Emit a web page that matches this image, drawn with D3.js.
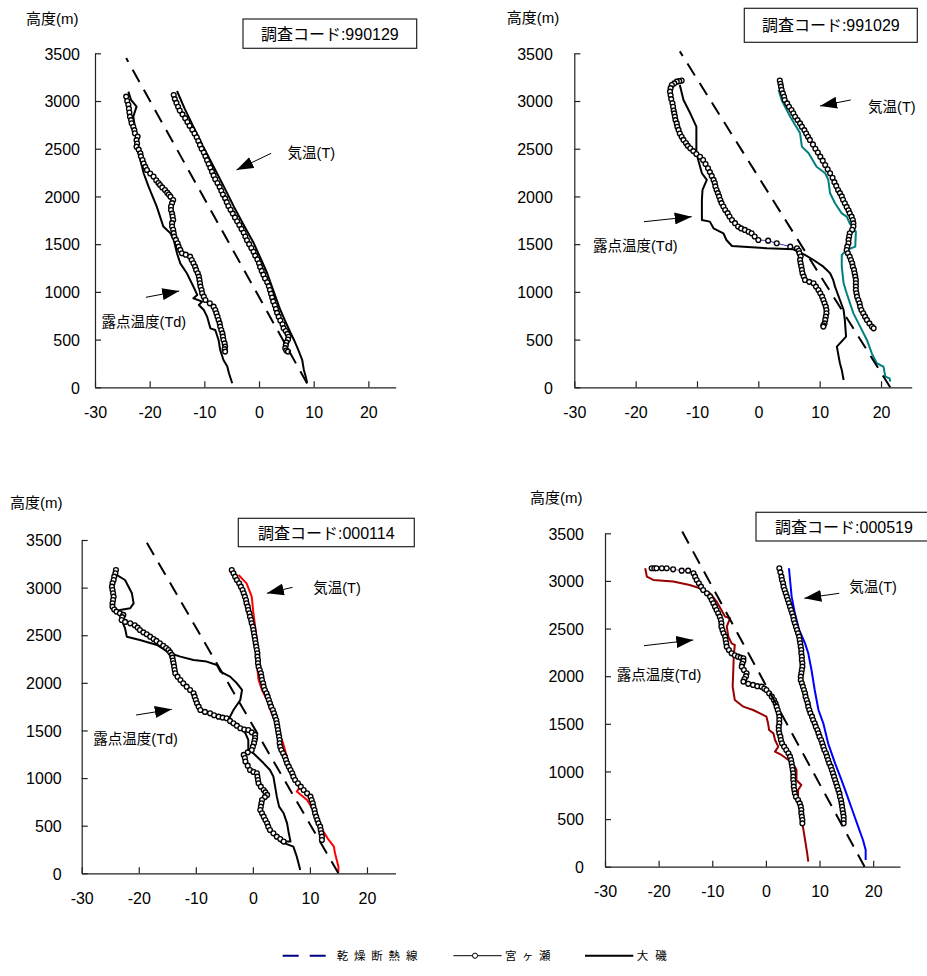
<!DOCTYPE html>
<html><head><meta charset="utf-8">
<script src="https://cdn.jsdelivr.net/npm/d3@7"></script>
<style>
body{margin:0;background:#fff}
text{font-family:"Liberation Sans","Noto Sans CJK JP",Arial,sans-serif;fill:#000}
</style>
</head><body>
<svg id="c" width="927" height="976"></svg>
<script>
// ---------------- DATA ----------------
const xTicks = [-30, -20, -10, 0, 10, 20];
const yTicks = [0, 500, 1000, 1500, 2000, 2500, 3000, 3500];
const codes = ["990129", "991029", "000114", "000519"];
const yAxisTitle = "高度(m)";
const labelT = "気温(T)";
const labelTd = "露点温度(Td)";
const legendNames = ["乾燥断熱線", "宮ヶ瀬", "大磯"];

// panel 1 : 990129   [temperature, height]
const p1Dry = [[8.8, 40], [-24.3, 3450]];
const p1MiyaT = [[-15.6,3063],[-15.4,3020],[-15.1,2980],[-14.8,2940],[-14.5,2900],[-14.0,2860],[-13.5,2820],[-13.1,2780],[-12.7,2740],[-12.2,2700],[-11.8,2660],[-11.4,2620],[-11.1,2580],[-10.8,2540],[-10.5,2500],[-10.1,2460],[-9.8,2420],[-9.5,2380],[-9.2,2340],[-8.9,2300],[-8.6,2260],[-8.3,2220],[-8.0,2180],[-7.6,2140],[-7.2,2100],[-6.9,2060],[-6.6,2020],[-6.2,1980],[-5.9,1940],[-5.6,1900],[-5.2,1860],[-4.8,1820],[-4.4,1780],[-4.0,1740],[-3.6,1700],[-3.2,1660],[-2.8,1620],[-2.5,1580],[-2.2,1540],[-1.8,1500],[-1.4,1460],[-1.0,1420],[-0.7,1380],[-0.3,1340],[0.0,1300],[0.2,1260],[0.5,1220],[0.8,1180],[1.1,1140],[1.5,1100],[1.8,1060],[2.0,1020],[2.2,980],[2.4,940],[2.6,900],[2.9,860],[3.1,820],[3.3,780],[3.6,740],[3.9,700],[4.3,660],[4.5,620],[4.9,590],[5.2,560],[5.4,530],[5.3,500],[5.0,470],[4.9,440],[4.8,410],[5.0,385],[5.3,374]];
const p1OisoT = [[-15.0,3105],[-13.6,2920],[-12.0,2731],[-10.2,2520],[-8.3,2312],[-6.4,2100],[-4.6,1893],[-2.8,1700],[-0.95,1509],[0.3,1350],[1.5,1195],[2.7,1000],[3.9,810],[4.9,680],[5.8,566],[6.4,496],[7.2,390],[7.9,286],[8.2,182],[8.5,120],[8.8,49]];
const p1MiyaTd = [[-24.3,3046],[-24.1,3000],[-23.9,2960],[-23.8,2920],[-23.7,2880],[-23.6,2836],[-23.4,2800],[-23.3,2766],[-23.0,2730],[-22.8,2695],[-22.7,2662],[-22.2,2627],[-22.4,2590],[-22.3,2555],[-22.4,2522],[-22.0,2490],[-21.7,2452],[-21.6,2420],[-21.3,2382],[-21.1,2345],[-20.8,2310],[-20.5,2277],[-19.9,2240],[-19.3,2208],[-18.8,2170],[-18.4,2140],[-18.1,2120],[-17.7,2095],[-17.2,2068],[-16.8,2040],[-16.5,2020],[-16.2,1998],[-15.7,1963],[-15.9,1930],[-16.1,1895],[-16.1,1858],[-15.9,1820],[-15.8,1790],[-15.7,1753],[-15.9,1720],[-15.9,1684],[-15.7,1650],[-15.6,1615],[-15.5,1579],[-15.2,1545],[-14.9,1510],[-14.7,1474],[-14.4,1440],[-14.1,1404],[-13.4,1390],[-12.6,1369],[-12.3,1334],[-12.0,1300],[-11.7,1264],[-11.5,1230],[-11.2,1195],[-11.0,1160],[-10.9,1125],[-10.8,1090],[-10.7,1055],[-10.5,1020],[-10.4,985],[-10.1,950],[-9.8,915],[-9.0,880],[-8.3,845],[-8.0,810],[-7.8,775],[-7.6,741],[-7.4,705],[-7.2,670],[-7.1,636],[-6.9,600],[-6.7,565],[-6.6,531],[-6.5,495],[-6.3,460],[-6.2,426],[-6.3,400],[-6.2,374]];
const p1OisoTd = [[-23.9,3098],[-23.4,3011],[-22.4,2941],[-23.0,2836],[-22.7,2731],[-22.2,2592],[-22.4,2522],[-21.7,2382],[-21.1,2243],[-20.2,2103],[-18.7,1893],[-17.5,1684],[-16.2,1614],[-15.6,1544],[-15.0,1404],[-14.4,1299],[-13.2,1195],[-12.0,1055],[-11.3,968],[-12.0,933],[-10.4,898],[-11.0,863],[-10.1,810],[-9.5,741],[-8.9,618],[-8.0,601],[-7.4,496],[-7.1,391],[-6.5,286],[-5.8,217],[-5.5,147],[-4.9,42]];

// panel 2 : 991029
const p2Dry = [[21.5, 0], [-12.8, 3520]];
const p2MiyaT = [[3.5,3214],[3.6,3180],[3.7,3150],[3.8,3116],[4.0,3080],[4.2,3045],[4.3,3011],[4.7,2975],[5.0,2940],[5.4,2905],[5.7,2871],[6.0,2835],[6.4,2800],[6.8,2765],[7.1,2731],[7.5,2695],[7.8,2660],[8.1,2625],[8.4,2592],[8.9,2545],[9.3,2500],[9.7,2460],[10.1,2417],[10.5,2375],[10.9,2330],[11.3,2285],[11.7,2243],[12.1,2195],[12.4,2150],[12.7,2110],[13.0,2068],[13.3,2035],[13.6,2000],[13.8,1965],[14.1,1928],[14.4,1890],[14.7,1855],[14.9,1823],[15.2,1788],[15.4,1753],[15.5,1718],[15.5,1684],[15.3,1650],[14.9,1614],[14.8,1580],[14.7,1545],[14.7,1509],[14.5,1474],[14.4,1439],[14.6,1404],[14.9,1369],[15.1,1334],[15.3,1299],[15.4,1264],[15.6,1230],[15.7,1195],[15.8,1160],[15.9,1125],[15.9,1090],[15.9,1055],[15.9,1020],[16.0,985],[16.1,950],[16.3,915],[16.5,880],[16.6,845],[16.8,810],[17.1,775],[17.4,740],[17.7,706],[18.1,670],[18.5,636],[18.8,618]];
const p2OisoT = [[3.3,3116],[3.8,3011],[4.5,2920],[5.2,2836],[6.0,2749],[6.5,2697],[6.8,2662],[7.1,2522],[8.2,2452],[9.5,2312],[10.9,2243],[11.4,2173],[11.7,2033],[12.5,1928],[13.6,1823],[14.4,1788],[14.9,1718],[15.9,1631],[15.8,1474],[14.4,1439],[13.6,1387],[13.6,1264],[13.9,1090],[14.4,985],[15.5,775],[16.6,636],[17.7,496],[18.5,356],[19.3,252],[20.4,217],[20.7,112],[21.4,94],[21.5,59]];
const p2MiyaTd = [[-12.5,3214],[-12.9,3208],[-13.3,3203],[-13.7,3185],[-14.1,3168],[-14.3,3135],[-14.4,3098],[-14.3,3060],[-14.2,3020],[-14.0,2976],[-13.9,2940],[-13.8,2900],[-13.7,2870],[-13.6,2836],[-13.5,2800],[-13.3,2765],[-13.2,2730],[-13.0,2697],[-12.8,2660],[-12.5,2625],[-12.2,2592],[-11.8,2560],[-11.5,2530],[-11.1,2504],[-10.6,2475],[-10.1,2445],[-9.5,2415],[-9.0,2382],[-8.6,2340],[-8.2,2295],[-7.9,2255],[-7.6,2215],[-7.3,2173],[-7.1,2140],[-7.0,2105],[-6.8,2068],[-6.6,2035],[-6.4,2000],[-6.2,1963],[-6.0,1930],[-5.7,1895],[-5.4,1858],[-5.0,1825],[-4.7,1790],[-4.3,1753],[-3.8,1720],[-3.3,1684],[-2.8,1665],[-2.2,1649],[-1.6,1630],[-1.1,1614],[-0.6,1580],[0.0,1544],[1.6,1537],[3.0,1509],[5.2,1474],[6.3,1457],[6.6,1430],[6.7,1404],[6.9,1370],[6.8,1335],[6.9,1299],[7.0,1265],[7.1,1230],[7.2,1195],[7.4,1160],[7.6,1125],[8.3,1105],[9.0,1090],[9.4,1055],[9.8,1020],[10.1,985],[10.4,950],[10.6,915],[10.8,880],[11.0,845],[11.1,810],[11.1,775],[11.0,740],[10.9,706],[10.8,670],[10.6,650],[10.6,636]];
const p2OisoTd = [[-12.8,3168],[-12.2,3011],[-11.1,2871],[-10.1,2731],[-10.1,2592],[-10.1,2452],[-9.2,2243],[-8.4,2173],[-9.1,2068],[-9.2,1963],[-9.2,1753],[-7.9,1736],[-7.3,1666],[-5.7,1614],[-5.2,1544],[-4.3,1481],[-2.4,1474],[1.4,1457],[5.7,1446],[7.6,1387],[9.0,1334],[10.6,1264],[11.7,1195],[12.2,1125],[12.5,1055],[13.3,915],[13.9,810],[14.1,706],[14.3,531],[12.8,426],[13.0,356],[13.3,252],[13.6,182],[13.9,77]];

// panel 3 : 000114
const p3Dry = [[15.0, 0], [-19.2, 3535]];
const p3MiyaT = [[-3.7,3185],[-3.4,3150],[-3.1,3115],[-2.8,3080],[-2.4,3045],[-2.1,3010],[-1.8,2975],[-1.6,2940],[-1.4,2905],[-1.2,2870],[-1.1,2835],[-0.9,2800],[-0.8,2765],[-0.6,2730],[-0.5,2695],[-0.3,2660],[-0.2,2625],[0.0,2590],[0.1,2555],[0.2,2520],[0.3,2485],[0.4,2450],[0.5,2415],[0.6,2380],[0.7,2345],[0.8,2310],[0.8,2275],[0.9,2240],[0.9,2205],[1.0,2170],[1.2,2135],[1.4,2100],[1.5,2065],[1.6,2030],[1.8,1995],[1.9,1960],[2.1,1925],[2.4,1890],[2.6,1855],[2.8,1820],[3.0,1785],[3.2,1750],[3.5,1715],[3.7,1680],[3.9,1645],[4.1,1610],[4.2,1575],[4.3,1540],[4.4,1505],[4.5,1470],[4.6,1435],[4.7,1400],[4.7,1365],[4.8,1330],[5.0,1295],[5.3,1260],[5.6,1225],[5.8,1190],[6.0,1155],[6.3,1120],[6.6,1085],[6.9,1050],[7.1,1015],[7.4,980],[7.9,945],[8.4,910],[8.9,875],[9.5,840],[10.1,805],[10.3,770],[10.5,735],[10.6,700],[10.8,665],[10.9,630],[11.1,595],[11.3,560],[11.5,525],[11.8,490],[11.9,455],[12.0,420],[12.1,385],[12.1,350]];
const p3OisoT = [[-2.5,3133],[-1.1,3045],[-0.2,2905],[0.1,2730],[0.7,2450],[0.7,2205],[1.0,2030],[1.6,1925],[2.5,1820],[3.3,1680],[4.2,1540],[5.3,1365],[6.1,1190],[7.1,1050],[8.3,910],[7.7,858],[9.5,770],[10.6,665],[11.8,490],[13.3,350],[14.2,280],[14.4,210],[15.0,70],[15.0,17]];
const p3MiyaTd = [[-24.0,3185],[-24.1,3150],[-24.3,3115],[-24.4,3080],[-24.6,3045],[-24.7,3010],[-24.6,2975],[-24.5,2940],[-24.4,2905],[-24.5,2870],[-24.6,2835],[-24.6,2800],[-24.3,2770],[-23.9,2748],[-23.3,2730],[-22.7,2713],[-22.9,2690],[-23.0,2660],[-22.4,2640],[-21.5,2625],[-20.7,2605],[-20.2,2580],[-19.8,2555],[-19.2,2530],[-18.6,2510],[-18.0,2485],[-17.4,2460],[-16.9,2440],[-16.3,2415],[-15.7,2390],[-15.2,2365],[-14.8,2345],[-14.5,2320],[-14.2,2293],[-14.1,2265],[-14.0,2235],[-13.9,2205],[-13.8,2170],[-13.7,2135],[-13.6,2100],[-13.2,2065],[-12.7,2030],[-12.2,1995],[-11.6,1960],[-11.0,1925],[-10.4,1890],[-10.2,1855],[-10.0,1820],[-9.8,1785],[-9.5,1750],[-9.2,1715],[-8.4,1695],[-7.5,1680],[-6.8,1660],[-6.0,1645],[-5.3,1635],[-4.6,1628],[-4.0,1600],[-3.4,1575],[-2.8,1550],[-2.2,1523],[-1.5,1510],[-0.8,1505],[-0.2,1480],[0.4,1453],[0.4,1420],[0.3,1395],[0.2,1365],[0.0,1330],[-0.2,1295],[-0.9,1270],[-1.6,1243],[-1.4,1210],[-1.3,1173],[-0.9,1130],[-0.5,1085],[0.1,1065],[0.7,1050],[0.8,1015],[0.9,980],[1.0,945],[1.4,910],[1.9,875],[2.2,850],[2.5,823],[2.1,800],[1.6,770],[1.5,735],[1.4,700],[1.3,665],[1.6,630],[1.9,595],[2.2,560],[2.5,525],[2.7,490],[3.0,455],[3.6,420],[4.2,385],[4.8,360],[5.4,333]];
const p3OisoTd = [[-23.9,3133],[-22.4,3080],[-21.2,2940],[-20.9,2835],[-21.5,2783],[-23.3,2765],[-23.0,2660],[-22.4,2573],[-22.1,2485],[-19.8,2450],[-16.8,2398],[-14.5,2310],[-12.7,2275],[-10.4,2240],[-8.1,2223],[-6.3,2188],[-5.7,2118],[-4.0,2065],[-2.8,1995],[-1.9,1925],[-2.2,1820],[-3.4,1715],[-4.0,1645],[-4.0,1575],[-2.2,1540],[-1.3,1470],[-0.8,1400],[-0.8,1295],[0.1,1260],[1.9,1155],[3.0,1085],[3.6,1015],[3.9,910],[4.2,805],[4.6,700],[5.4,630],[6.0,525],[6.3,420],[6.6,333],[4.8,333],[7.1,280],[7.7,175],[8.0,105],[8.3,35]];

// panel 4 : 000519
const p4Dry = [[18.4, 0], [-15.6, 3518]];
const p4MiyaT = [[2.5,3133],[2.7,3090],[2.9,3045],[3.0,3010],[3.2,2975],[3.3,2940],[3.5,2905],[3.7,2870],[3.9,2835],[4.1,2800],[4.3,2765],[4.5,2730],[4.7,2695],[4.9,2660],[5.1,2625],[5.2,2590],[5.4,2555],[5.6,2520],[5.8,2485],[6.0,2450],[6.2,2415],[6.3,2380],[6.4,2345],[6.5,2310],[6.6,2275],[6.6,2240],[6.7,2205],[6.7,2170],[6.8,2135],[6.8,2100],[6.7,2065],[6.6,2030],[6.5,1995],[6.5,1960],[6.7,1925],[6.9,1890],[7.1,1855],[7.3,1820],[7.4,1785],[7.6,1750],[7.8,1715],[7.9,1680],[8.1,1645],[8.3,1610],[8.6,1575],[8.8,1540],[9.1,1505],[9.3,1470],[9.6,1435],[9.8,1400],[10.0,1365],[10.3,1330],[10.5,1295],[10.7,1260],[10.9,1225],[11.2,1190],[11.4,1155],[11.6,1120],[11.8,1085],[12.1,1050],[12.3,1015],[12.5,980],[12.7,945],[12.9,910],[13.1,875],[13.3,840],[13.5,805],[13.7,770],[13.8,735],[14.0,700],[14.1,665],[14.2,630],[14.3,595],[14.4,560],[14.5,525],[14.5,490],[14.5,455]];
const p4OisoT = [[4.3,3133],[4.5,3010],[4.8,2835],[5.4,2660],[6.2,2485],[7.3,2345],[7.9,2240],[8.5,2065],[9.1,1855],[9.8,1645],[10.7,1505],[11.6,1295],[12.9,1085],[14.1,910],[15.0,770],[16.1,595],[17.2,420],[18.1,280],[18.6,175],[18.6,70]];
const p4MiyaTd = [[-21.3,3133],[-20.8,3133],[-20.4,3133],[-19.4,3133],[-18.5,3133],[-17.3,3122],[-15.7,3108],[-14.5,3108],[-13.5,3080],[-13.2,3045],[-12.9,3010],[-12.5,2975],[-12.1,2940],[-11.7,2905],[-11.0,2870],[-10.4,2835],[-10.1,2800],[-9.8,2765],[-9.5,2730],[-9.2,2695],[-8.9,2660],[-8.6,2625],[-8.4,2590],[-8.3,2555],[-8.3,2520],[-8.1,2485],[-7.9,2450],[-7.6,2415],[-7.5,2380],[-7.4,2345],[-7.3,2310],[-6.9,2275],[-6.4,2240],[-5.8,2220],[-5.2,2205],[-4.7,2195],[-4.2,2188],[-4.2,2160],[-4.4,2130],[-4.5,2100],[-4.1,2065],[-3.6,2030],[-3.7,2000],[-4.0,1970],[-4.2,1943],[-3.3,1920],[-2.4,1908],[-1.6,1895],[-0.8,1890],[-0.3,1870],[0.1,1855],[0.6,1820],[1.1,1785],[1.5,1750],[1.8,1715],[2.0,1680],[2.2,1645],[2.4,1610],[2.5,1575],[2.5,1540],[2.5,1505],[2.4,1470],[2.4,1435],[2.5,1400],[2.7,1365],[2.8,1330],[3.0,1295],[3.4,1260],[3.8,1225],[4.2,1190],[4.5,1155],[4.7,1120],[4.8,1085],[4.9,1050],[5.0,1015],[5.1,980],[5.1,945],[5.1,910],[5.2,875],[5.2,840],[5.3,805],[5.4,770],[5.6,735],[6.0,700],[6.3,665],[6.5,630],[6.6,595],[6.6,560],[6.7,525],[6.8,490],[6.8,455]];
const p4OisoTd = [[-22.5,3133],[-22.2,3045],[-21.0,3010],[-17.3,2993],[-14.2,2958],[-12.3,2923],[-10.4,2870],[-9.2,2783],[-8.3,2695],[-7.6,2625],[-6.7,2608],[-7.3,2520],[-7.0,2415],[-6.4,2345],[-5.8,2328],[-6.0,2205],[-6.1,2030],[-6.2,1890],[-5.8,1750],[-4.2,1680],[-2.4,1645],[-1.1,1610],[0.1,1575],[0.4,1505],[0.6,1435],[1.4,1400],[1.7,1330],[2.3,1260],[1.7,1208],[2.9,1173],[4.2,1120],[5.4,1050],[5.7,1015],[5.7,910],[6.6,858],[6.0,805],[6.0,700],[6.6,595],[6.9,420],[7.3,280],[7.7,140],[7.9,52]];

// annotation anchors in data units: [tailT, tailH, tipT, tipH, labelT, labelH]
const annT  = [[2.22,2452,-4.13,2278,5.23,2458],[15.07,3011,10.06,2948,17.89,2939],[6.95,3003,2.46,2940,10.58,2993],[13.68,2870,7.16,2818,15.55,2933]];
const annTd = [[-20.7,943,-14.6,1009,-28.8,687],[-18.64,1735,-10.86,1788,-26.95,1481],[-20.47,1662,-14.21,1722,-27.96,1410],[-22.73,2320,-13.54,2380,-27.82,2012]];

// ---------------- LAYOUT ----------------
const panels = [
  {x0:95,   x1:395.7, yT:53.3,  yB:387.3, box:[243,19,173.7,29.3],   yl:[26,23.5],   lblGap:15,
   dry:p1Dry, miT:p1MiyaT, miTd:p1MiyaTd, oiT:p1OisoT, oiTd:p1OisoTd, cT:"#000", cTd:"#000", cMi:"#000080"},
  {x0:574.3,x1:911.7, yT:53.3,  yB:387.3, box:[744.3,8.3,173,34],    yl:[506.7,23],  lblGap:21.5,
   dry:p2Dry, miT:p2MiyaT, miTd:p2MiyaTd, oiT:p2OisoT, oiTd:p2OisoTd, cT:"#008080", cTd:"#000", cMi:"#3333cc"},
  {x0:81.7, x1:395.5, yT:540,   yB:873.3, box:[238.3,518.3,176,28.4],yl:[10,508],    lblGap:20,
   dry:p3Dry, miT:p3MiyaT, miTd:p3MiyaTd, oiT:p3OisoT, oiTd:p3OisoTd, cT:"#ff0000", cTd:"#000", cMi:"#000080"},
  {x0:605,  x1:900,   yT:533.3, yB:866.7, box:[756,512.3,176,28.7],  yl:[530,502.5], lblGap:21,
   dry:p4Dry, miT:p4MiyaT, miTd:p4MiyaTd, oiT:p4OisoT, oiTd:p4OisoTd, cT:"#0000ff", cTd:"#990000", cMi:"#cc33cc"}
];

const svg = d3.select("#c");
svg.append("defs").append("marker").attr("id","ah")
  .attr("viewBox","0 0 10 10").attr("refX",10).attr("refY",5)
  .attr("markerWidth",17).attr("markerHeight",12).attr("markerUnits","userSpaceOnUse")
  .attr("preserveAspectRatio","none").attr("orient","auto")
  .append("path").attr("d","M0,0L10,5L0,10Z").attr("fill","#000");

const fmt = d => String(d);

panels.forEach((p, i) => {
  const x = d3.scaleLinear().domain([-30, 25]).range([p.x0, p.x1]);
  const y = d3.scaleLinear().domain([0, 3500]).range([p.yB, p.yT]);
  const g = svg.append("g");

  // axes
  const xa = g.append("g").attr("transform", `translate(0,${p.yB})`)
    .call(d3.axisBottom(x).tickValues(xTicks).tickFormat(fmt).tickSizeInner(-6).tickSizeOuter(0).tickPadding(19));
  const ya = g.append("g").attr("transform", `translate(${p.x0},0)`)
    .call(d3.axisLeft(y).tickValues(yTicks).tickFormat(fmt).tickSizeInner(-6).tickSizeOuter(0).tickPadding(p.lblGap));
  [xa, ya].forEach(a => {
    a.select(".domain").attr("stroke", "#222").attr("stroke-width", 1.2);
    a.selectAll(".tick line").attr("stroke", "#222").attr("stroke-width", 1.2);
    a.selectAll("text").attr("font-size", 16).attr("fill", "#000")
      .style("font-family", '"Liberation Sans",Arial,sans-serif');
  });
  ya.selectAll("text").attr("dy", "0.36em");

  const line = d3.line().x(d => x(d[0])).y(d => y(d[1]));

  // Oiso lines
  g.append("path").datum(p.oiT).attr("d", line).attr("fill", "none")
    .attr("stroke", p.cT).attr("stroke-width", 2).attr("stroke-linejoin", "round");
  g.append("path").datum(p.oiTd).attr("d", line).attr("fill", "none")
    .attr("stroke", p.cTd).attr("stroke-width", 2).attr("stroke-linejoin", "round");

  // Miyagase lines + circles
  [p.miT, p.miTd].forEach(s => {
    g.append("path").datum(s).attr("d", line).attr("fill", "none")
      .attr("stroke", p.cMi).attr("stroke-width", 1);
    g.append("g").selectAll("circle").data(s).join("circle")
      .attr("cx", d => x(d[0])).attr("cy", d => y(d[1])).attr("r", 2.4)
      .attr("fill", "#fff").attr("stroke", "#000").attr("stroke-width", 1.35);
  });

  // dry adiabat
  g.append("path").datum(p.dry).attr("d", line).attr("fill", "none")
    .attr("stroke", "#000").attr("stroke-width", 2).attr("stroke-dasharray", "14,9");

  // y axis title
  g.append("text").attr("x", p.yl[0]).attr("y", p.yl[1]).attr("font-size", 15).text(yAxisTitle);

  // code box
  g.append("rect").attr("x", p.box[0]).attr("y", p.box[1]).attr("width", p.box[2]).attr("height", p.box[3])
    .attr("fill", "#fff").attr("stroke", "#222").attr("stroke-width", 1.2);
  g.append("text").attr("x", p.box[0] + p.box[2] / 2).attr("y", p.box[1] + p.box[3] / 2 + 6)
    .attr("text-anchor", "middle").attr("font-size", 16).text("調査コード:" + codes[i]);

  // annotations
  [[annT[i], labelT], [annTd[i], labelTd]].forEach(([a, lab]) => {
    g.append("line").attr("x1", x(a[0])).attr("y1", y(a[1])).attr("x2", x(a[2])).attr("y2", y(a[3]))
      .attr("stroke", "#000").attr("stroke-width", 1).attr("marker-end", "url(#ah)");
    g.append("text").attr("x", x(a[4])).attr("y", y(a[5]) + 5).attr("font-size", 14.5).text(lab);
  });
});

// legend
const lg = svg.append("g");
const ly = 955.7;
lg.append("line").attr("x1", 282.7).attr("x2", 325.7).attr("y1", ly).attr("y2", ly)
  .attr("stroke", "#000080").attr("stroke-width", 2).attr("stroke-dasharray", "16,11");
lg.append("text").attr("x", 336.7).attr("y", ly + 4.5).attr("font-size", 11.5).attr("letter-spacing", 5.8).text(legendNames[0]);
lg.append("line").attr("x1", 453.3).attr("x2", 501.7).attr("y1", ly).attr("y2", ly).attr("stroke", "#000").attr("stroke-width", 1);
lg.append("circle").attr("cx", 475).attr("cy", ly).attr("r", 2.6).attr("fill", "#fff").attr("stroke", "#000");
lg.append("text").attr("x", 505).attr("y", ly + 4.5).attr("font-size", 11.5).attr("letter-spacing", 5.5).text(legendNames[1]);
lg.append("line").attr("x1", 585).attr("x2", 633.3).attr("y1", ly).attr("y2", ly).attr("stroke", "#000").attr("stroke-width", 2);
lg.append("text").attr("x", 636.7).attr("y", ly + 4.5).attr("font-size", 11.5).attr("letter-spacing", 7).text(legendNames[2]);
</script>
</body></html>
